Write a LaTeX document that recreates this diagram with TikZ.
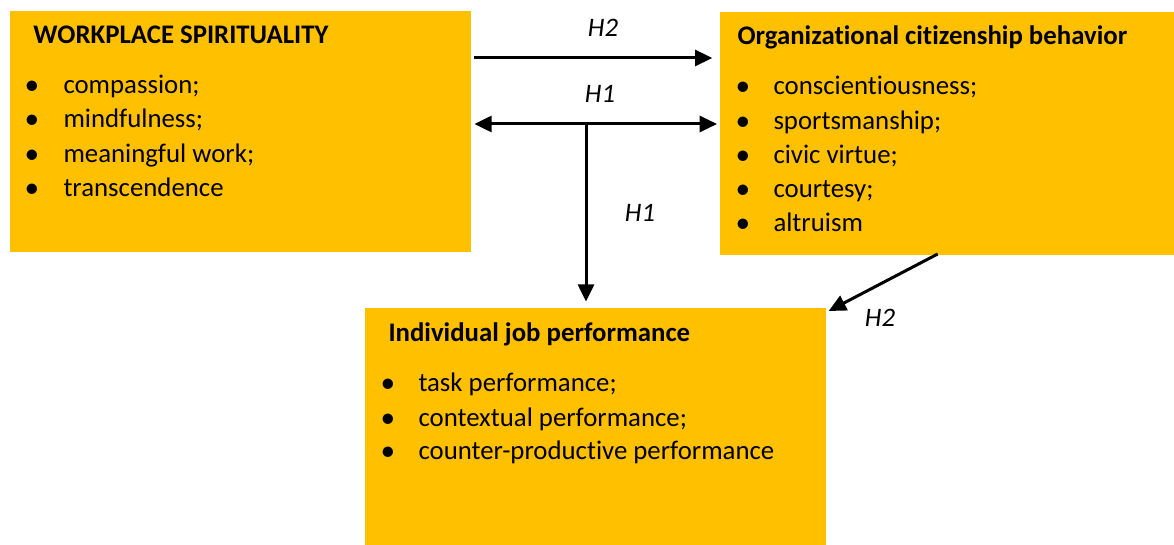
\documentclass[tikz,border=0pt]{standalone}
\usepackage{fontspec}
\setmainfont{Carlito}[Ligatures=NoCommon]
\usetikzlibrary{arrows.meta}

\definecolor{boxgold}{RGB}{255,192,0}
\tikzset{every picture/.style={line width=0.75pt}}
\tikzset{
  blockbox/.style={fill=boxgold, draw=none, inner sep=0pt, anchor=north west},
  boxtitle/.style={anchor=base west, inner sep=0pt, font=\fontsize{20.1pt}{24pt}\selectfont\bfseries},
  itemtext/.style={anchor=base west, inner sep=0pt, font=\fontsize{20.1pt}{24pt}\selectfont},
  itemdot/.style={anchor=base, inner sep=0pt, font=\fontsize{22pt}{26pt}\selectfont},
  hyplabel/.style={inner sep=0pt, font=\fontsize{20pt}{24pt}\selectfont\itshape},
  arr/.style={line width=2.25pt, -{Triangle[length=13pt,width=12pt]}},
  dblarr/.style={line width=2.25pt, {Triangle[length=13pt,width=12pt]}-{Triangle[length=13pt,width=12pt]}}
}

\begin{document}
\begin{tikzpicture}[x=0.75pt,y=0.75pt,yscale=-1,xscale=1]
\useasboundingbox (0,0) rectangle (1174,545);

%Rectangle [workplace spirituality]
\node (wsp) [blockbox, minimum width=461*0.75pt, minimum height=241*0.75pt] at (9,11) {};
%Rectangle [OCB]
\node (ocb) [blockbox, minimum width=455*0.75pt, minimum height=243*0.75pt] at (719,12) {};
%Rectangle [job performance]
\node (ijp) [blockbox, minimum width=461*0.75pt, minimum height=238*0.75pt] at (364,307) {};

% Text Node
\node (wsptitle) [boxtitle] at (33,44) {WORKPLACE SPIRITUALITY};
\node (wspd1) [itemdot] at (32,95) {•};
\node (wspi1) [itemtext] at (63,94) {compassion;};
\node (wspd2) [itemdot] at (32,129) {•};
\node (wspi2) [itemtext] at (63,128) {mindfulness;};
\node (wspd3) [itemdot] at (32,164) {•};
\node (wspi3) [itemtext] at (63,163) {meaningful work;};
\node (wspd4) [itemdot] at (32,198) {•};
\node (wspi4) [itemtext] at (63,197) {transcendence};

% Text Node
\node (ocbtitle) [boxtitle] at (737,45) {Organizational citizenship behavior};
\node (ocbd1) [itemdot] at (743,96) {•};
\node (ocbi1) [itemtext] at (773,95) {conscientiousness;};
\node (ocbd2) [itemdot] at (743,131) {•};
\node (ocbi2) [itemtext] at (773,130) {sportsmanship;};
\node (ocbd3) [itemdot] at (743,165) {•};
\node (ocbi3) [itemtext] at (773,164) {civic virtue;};
\node (ocbd4) [itemdot] at (743,199) {•};
\node (ocbi4) [itemtext] at (773,198) {courtesy;};
\node (ocbd5) [itemdot] at (743,233) {•};
\node (ocbi5) [itemtext] at (773,232) {altruism};

% Text Node
\node (ijptitle) [boxtitle] at (388,341) {Individual job performance};
\node (ijpd1) [itemdot] at (388,392) {•};
\node (ijpi1) [itemtext] at (418,391) {task performance;};
\node (ijpd2) [itemdot] at (388,427) {•};
\node (ijpi2) [itemtext] at (418,426) {contextual performance;};
\node (ijpd3) [itemdot] at (388,460) {•};
\node (ijpi3) [itemtext] at (418,459) {counter-productive performance};

%Straight Lines [H2 and H1]
\draw [arr, shorten <=2pt, shorten >=5pt] (wsp.east |- 0,58) -- (ocb.west |- 0,58);
\draw [dblarr, shorten <=2.5pt, shorten >=1.5pt] (wsp.east |- 0,124) -- (ocb.west |- 0,124);
\coordinate (fork) at (586,124);
\draw [arr, shorten >=4pt] (fork) -- (ijp.north -| fork);
\draw [arr] ([xshift=-7pt,yshift=-1.5pt]ocb.south) -- ([xshift=2pt,yshift=3pt]ijp.north east);

% Text Node
\node (h2top) [hyplabel] at (603,28) {H2};
\node (h1top) [hyplabel] at (600,94) {H1};
\node (h1down) [hyplabel] at (640,213) {H1};
\node (h2diag) [hyplabel] at (880,318) {H2};

\end{tikzpicture}
\end{document}
